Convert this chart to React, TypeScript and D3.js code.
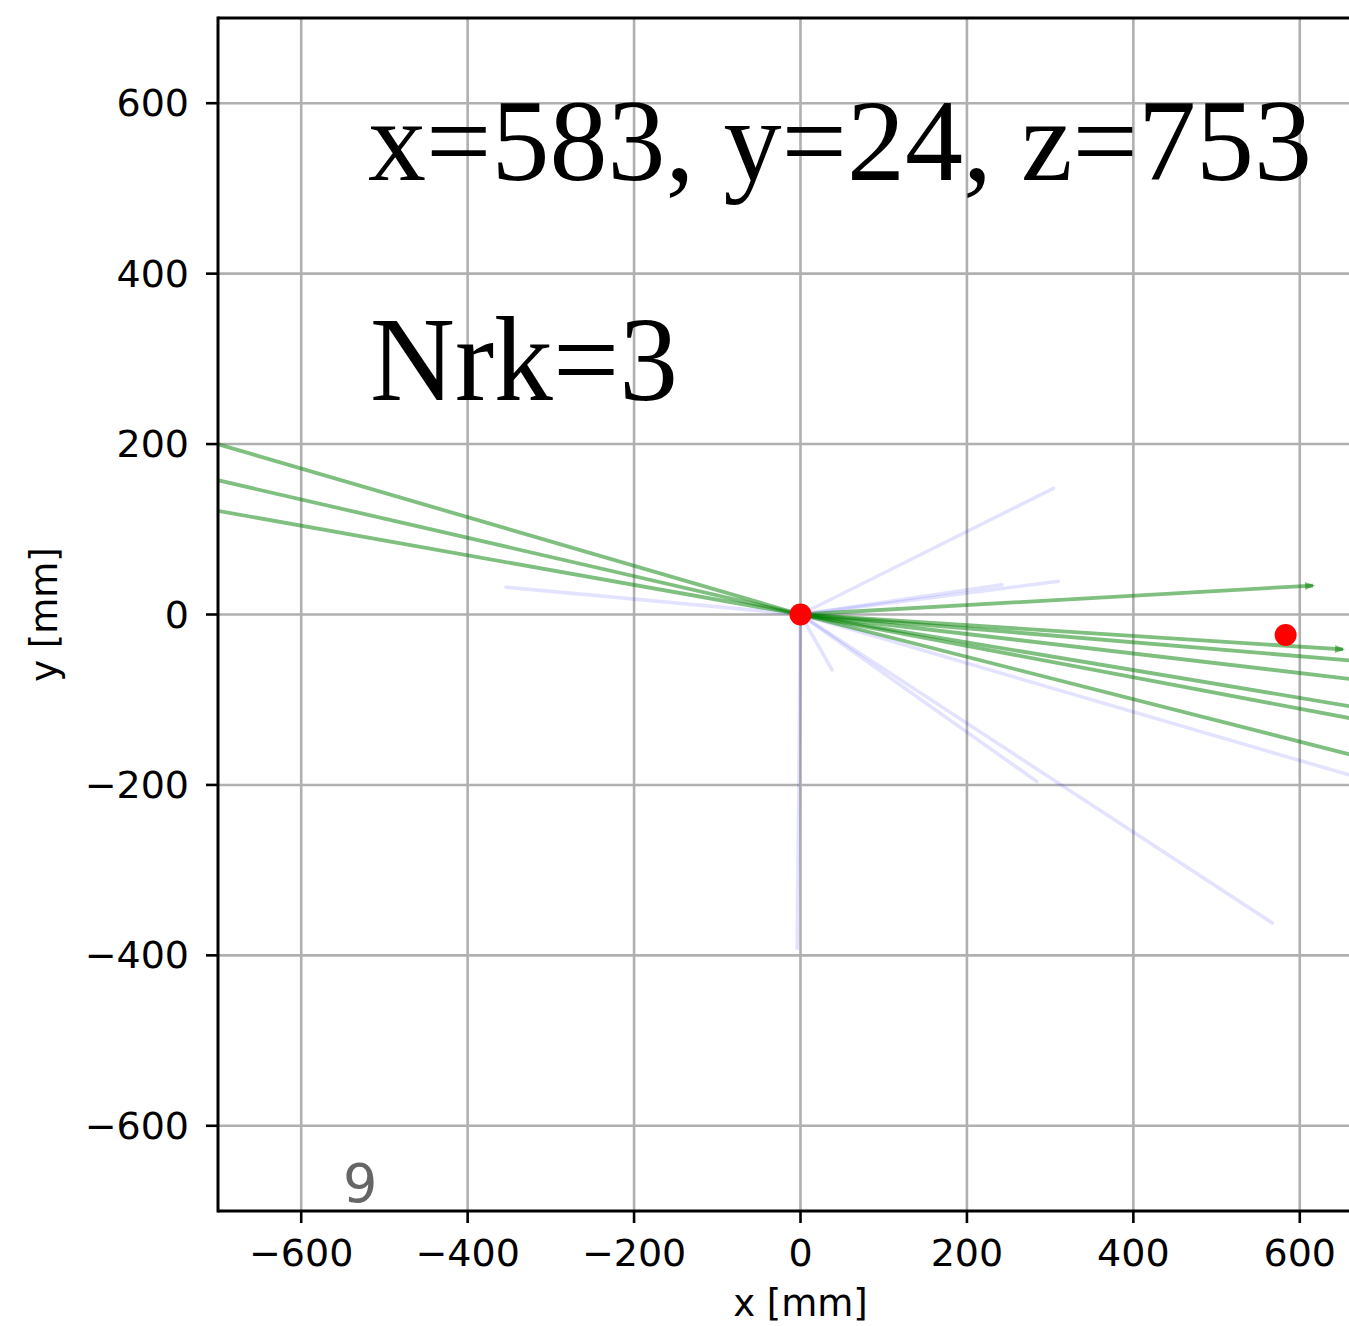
import React from "react";
import * as d3 from "d3";

const W = 1349;
const H = 1326;

// axis domain and ticks
const xDomain: [number, number] = [-700, 700];
const yDomain: [number, number] = [-700, 700];
const xTicks = [-600, -400, -200, 0, 200, 400, 600];
const yTicks = [-600, -400, -200, 0, 200, 400, 600];

// green (charged) tracks, all starting at the origin
const greenEndX = [-760, -760, -760, 616, 652, 760, 760, 760, 760, 760];
const greenEndY = [217, 171, 132, 34, -41, -62, -87, -124, -140, -189];
const greenArrow = [false, false, false, true, true, false, false, false, false, false];

// faint blue tracks, all starting at the origin
const blueEndX = [-354, 304, 242, 310, 38, -4, 567, 284, 760];
const blueEndY = [32, 148, 35, 39, -65, -392, -362, -196, -217];

// red hits
const hitX = [0, 583];
const hitY = [0, -24];

const titleLine1 = "x=583, y=24, z=753";
const titleLine2 = "Nrk=3";
const eventLabel = "9";

export default function App() {
  const left = 218;
  const top = 18;
  const bottom = 1211;
  const x = d3.scaleLinear().domain(xDomain).range([left, left + 1165]);
  const y = d3.scaleLinear().domain(yDomain).range([bottom, top]);
  const line = d3.line<[number, number]>().x((d) => x(d[0])).y((d) => y(d[1]));
  const plotW = x(xDomain[1]) - left;
  const plotH = bottom - top;
  const fmt = (v: number) => (v < 0 ? "\u2212" + Math.abs(v) : String(v));

  return (
    <svg
      width={W}
      height={H}
      style={{ position: "absolute", left: 0, top: 0, background: "#fff" }}
      fontFamily="DejaVu Sans"
    >
      <defs>
        <clipPath id="plot">
          <rect x={left} y={top} width={plotW} height={plotH} />
        </clipPath>
        <marker
          id="arr"
          viewBox="0 0 10 10"
          refX="8"
          refY="5"
          markerWidth="12"
          markerHeight="10"
          markerUnits="userSpaceOnUse"
          orient="auto"
        >
          <path d="M0,1 L10,5 L0,9 Z" fill="rgba(0,128,0,0.5)" />
        </marker>
      </defs>
      <rect x={0} y={0} width={W} height={H} fill="#fff" />
      {/* grid */}
      <g stroke="#b0b0b0" strokeWidth={2.6}>
        {xTicks.map((t) => (
          <line key={"gx" + t} x1={x(t)} x2={x(t)} y1={top} y2={bottom} />
        ))}
        {yTicks.map((t) => (
          <line key={"gy" + t} x1={left} x2={left + plotW} y1={y(t)} y2={y(t)} />
        ))}
      </g>
      <g clipPath="url(#plot)">
        {blueEndX.map((ex, i) => (
          <path
            key={"b" + i}
            d={line([[0, 0], [ex, blueEndY[i]]]) || ""}
            stroke="rgba(0,0,255,0.11)"
            strokeWidth={3.6}
            fill="none"
            strokeLinecap="round"
          />
        ))}
        {greenEndX.map((ex, i) => (
          <path
            key={"g" + i}
            d={line([[0, 0], [ex, greenEndY[i]]]) || ""}
            stroke="rgba(0,128,0,0.5)"
            strokeWidth={3.8}
            fill="none"
            markerEnd={greenArrow[i] ? "url(#arr)" : undefined}
          />
        ))}
        {hitX.map((hx, i) => (
          <circle key={"h" + i} cx={x(hx)} cy={y(hitY[i])} r={11} fill="#ff0000" />
        ))}
      </g>
      {/* spines */}
      <g stroke="#000" strokeWidth={3} fill="none">
        <line x1={left} x2={left} y1={top - 1.5} y2={bottom + 1.5} />
        <line x1={left} x2={left + plotW} y1={top} y2={top} />
        <line x1={left} x2={left + plotW} y1={bottom} y2={bottom} />
        <line x1={left + plotW} x2={left + plotW} y1={top} y2={bottom} />
      </g>
      {/* x ticks */}
      {xTicks.map((t) => (
        <g key={"xt" + t}>
          <line x1={x(t)} x2={x(t)} y1={bottom} y2={bottom + 12} stroke="#000" strokeWidth={2.6} />
          <text x={x(t)} y={bottom + 55} fontSize={38} textAnchor="middle" fill="#000">
            {fmt(t)}
          </text>
        </g>
      ))}
      {/* y ticks */}
      {yTicks.map((t) => (
        <g key={"yt" + t}>
          <line x1={left - 12} x2={left} y1={y(t)} y2={y(t)} stroke="#000" strokeWidth={2.6} />
          <text x={left - 29} y={y(t) + 13} fontSize={38} textAnchor="end" fill="#000">
            {fmt(t)}
          </text>
        </g>
      ))}
      <text x={x(0)} y={1316} fontSize={37} textAnchor="middle" fill="#000">
        x [mm]
      </text>
      <text
        transform={`translate(57, ${y(0)}) rotate(-90)`}
        fontSize={37}
        textAnchor="middle"
        fill="#000"
      >
        y [mm]
      </text>
      <text
        x={368}
        y={180}
        fontSize={116}
        fontFamily="Liberation Serif"
        fill="#000"
        textLength={944}
        lengthAdjust="spacingAndGlyphs"
      >
        {titleLine1}
      </text>
      <text
        x={370}
        y={400}
        fontSize={120}
        fontFamily="Liberation Serif"
        fill="#000"
        textLength={308}
        lengthAdjust="spacingAndGlyphs"
      >
        {titleLine2}
      </text>
      <text x={343} y={1202} fontSize={54} fill="#666">
        {eventLabel}
      </text>
    </svg>
  );
}
